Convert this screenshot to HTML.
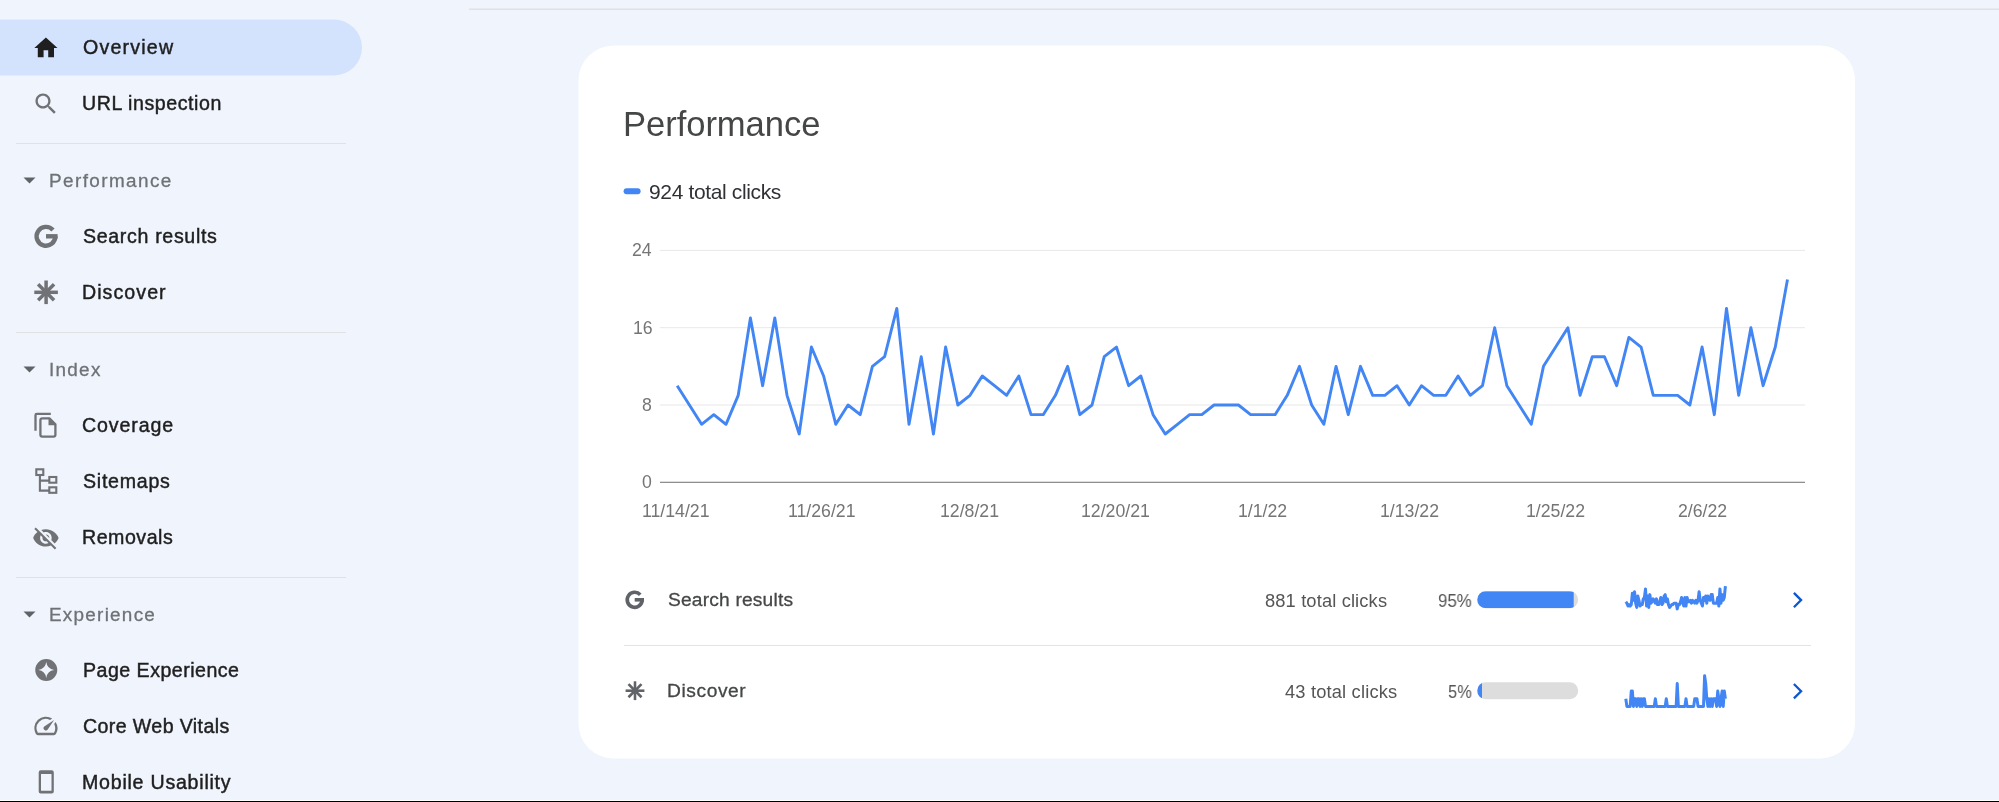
<!DOCTYPE html>
<html><head><meta charset="utf-8"><title>Search Console - Overview</title>
<style>
html,body{margin:0;padding:0}
body{width:1999px;height:802px;overflow:hidden;position:relative;background:#f0f4fc;font-family:"Liberation Sans",sans-serif}
.t{position:absolute;white-space:nowrap;will-change:transform}
</style></head><body>
<div style="position:absolute;left:469px;top:8px;right:0;height:1px;background:#e8eaed"></div><div style="position:absolute;left:469px;top:9px;right:0;height:1px;background:#e0e2e3"></div>
<svg style="position:absolute;left:0;top:0;overflow:visible" width="1" height="1"><path d="M0 19.5H334a28 28 0 0 1 0 56H0Z" fill="#d3e3fd"/></svg><div style="position:absolute;left:16px;top:143px;width:330px;height:1px;background:#e0e1e3"></div><div style="position:absolute;left:16px;top:332px;width:330px;height:1px;background:#e0e1e3"></div><div style="position:absolute;left:16px;top:577px;width:330px;height:1px;background:#e0e1e3"></div><div class="t" style="left:82.77px;top:37.30px;font-size:19.6px;line-height:21.90px;letter-spacing:1.200px;color:#1f1f1f;-webkit-text-stroke:0.45px currentColor;">Overview</div><div class="t" style="left:82.49px;top:93.30px;font-size:19.6px;line-height:21.90px;letter-spacing:0.552px;color:#1f1f1f;-webkit-text-stroke:0.45px currentColor;">URL inspection</div><div class="t" style="left:82.76px;top:226.00px;font-size:19.6px;line-height:21.90px;letter-spacing:0.659px;color:#1f1f1f;-webkit-text-stroke:0.45px currentColor;">Search results</div><div class="t" style="left:81.79px;top:282.30px;font-size:19.6px;line-height:21.90px;letter-spacing:1.057px;color:#1f1f1f;-webkit-text-stroke:0.45px currentColor;">Discover</div><div class="t" style="left:82.40px;top:415.30px;font-size:19.6px;line-height:21.90px;letter-spacing:0.883px;color:#1f1f1f;-webkit-text-stroke:0.45px currentColor;">Coverage</div><div class="t" style="left:82.51px;top:471.30px;font-size:19.6px;line-height:21.90px;letter-spacing:0.742px;color:#1f1f1f;-webkit-text-stroke:0.45px currentColor;">Sitemaps</div><div class="t" style="left:81.79px;top:527.30px;font-size:19.6px;line-height:21.90px;letter-spacing:0.525px;color:#1f1f1f;-webkit-text-stroke:0.45px currentColor;">Removals</div><div class="t" style="left:82.79px;top:660.00px;font-size:19.6px;line-height:21.90px;letter-spacing:0.479px;color:#1f1f1f;-webkit-text-stroke:0.45px currentColor;">Page Experience</div><div class="t" style="left:82.90px;top:716.00px;font-size:19.6px;line-height:21.90px;letter-spacing:0.386px;color:#1f1f1f;-webkit-text-stroke:0.45px currentColor;">Core Web Vitals</div><div class="t" style="left:82.29px;top:772.00px;font-size:19.6px;line-height:21.90px;letter-spacing:0.760px;color:#1f1f1f;-webkit-text-stroke:0.45px currentColor;">Mobile Usability</div><div class="t" style="left:48.85px;top:170.39px;font-size:18.9px;line-height:21.11px;letter-spacing:1.420px;color:#6e7175;-webkit-text-stroke:0.3px currentColor;">Performance</div><svg style="position:absolute;left:23.3px;top:177.40px" width="13" height="7" viewBox="0 0 13 7"><path d="M0.5 0.5h12L6.5 6.5z" fill="#5f6368"/></svg><div class="t" style="left:48.66px;top:359.09px;font-size:18.9px;line-height:21.11px;letter-spacing:1.278px;color:#6e7175;-webkit-text-stroke:0.3px currentColor;">Index</div><svg style="position:absolute;left:23.3px;top:366.10px" width="13" height="7" viewBox="0 0 13 7"><path d="M0.5 0.5h12L6.5 6.5z" fill="#5f6368"/></svg><div class="t" style="left:48.85px;top:603.89px;font-size:18.9px;line-height:21.11px;letter-spacing:1.259px;color:#6e7175;-webkit-text-stroke:0.3px currentColor;">Experience</div><svg style="position:absolute;left:23.3px;top:610.90px" width="13" height="7" viewBox="0 0 13 7"><path d="M0.5 0.5h12L6.5 6.5z" fill="#5f6368"/></svg><svg style="position:absolute;left:32.3px;top:33.60px" width="27.8" height="27.8" viewBox="0 0 24 24"><g fill="#1f1f1f"><path d="M10 20v-6h4v6h5v-8h3L12 3 2 12h3v8z"/></g></svg><svg style="position:absolute;left:32.3px;top:89.60px" width="27.8" height="27.8" viewBox="0 0 24 24"><g fill="#707275"><path d="M15.5 14h-.79l-.28-.27C15.41 12.59 16 11.11 16 9.5 16 5.91 13.09 3 9.5 3S3 5.91 3 9.5 5.91 16 9.5 16c1.61 0 3.09-.59 4.23-1.57l.27.28v.79l5 4.99L20.49 19l-4.99-5zm-6 0C7.01 14 5 11.99 5 9.5S7.01 5 9.5 5 14 7.01 14 9.5 11.99 14 9.5 14z"/></g></svg><svg style="position:absolute;left:0;top:0;overflow:visible" width="1" height="1"><path d="M52.99 230.01 A9.40 9.40 0 1 0 55.40 236.30" fill="none" stroke="#707275" stroke-width="4.4"/><rect x="46.00" y="234.10" width="11.60" height="4.40" fill="#707275"/></svg><svg style="position:absolute;left:0;top:0;overflow:visible" width="1" height="1"><g stroke="#707275" stroke-width="3.5"><line x1="34.30" y1="292.30" x2="57.90" y2="292.30"/><line x1="46.10" y1="280.50" x2="46.10" y2="304.10"/><line x1="38.11" y1="284.31" x2="54.09" y2="300.29"/><line x1="54.09" y1="284.31" x2="38.11" y2="300.29"/></g><circle cx="46.1" cy="292.3" r="3.85" fill="#707275"/></svg><svg style="position:absolute;left:0;top:0;overflow:visible" width="1" height="1"><g fill="none" stroke="#707275" stroke-width="2.3">
<path d="M35.5 430.8V415.2Q35.5 413.9 36.8 413.9H50.8"/>
<path d="M40.4 420.3Q40.4 418.4 42.3 418.4H49.4L55.4 424.4V434.7Q55.4 436.6 53.5 436.6H42.3Q40.4 436.6 40.4 434.7Z" stroke-linejoin="round"/>
</g><path d="M48.5 417.5V425.2H56.5Z" fill="#707275"/></svg><svg style="position:absolute;left:0;top:0;overflow:visible" width="1" height="1"><g fill="none" stroke="#707275" stroke-width="2.1">
<rect x="36.3" y="469.3" width="7" height="5.7"/>
<rect x="49.3" y="477.0" width="7" height="5.7"/>
<rect x="49.3" y="487.3" width="7" height="5.5"/>
<path d="M39.9 475.3V490.6H49.3M39.9 480.6H49.3"/>
</g></svg><svg style="position:absolute;left:32.1px;top:523.90px" width="27.8" height="27.8" viewBox="0 0 24 24"><g fill="#707275"><path d="M12 7c2.76 0 5 2.24 5 5 0 .65-.13 1.26-.36 1.83l2.92 2.92c1.51-1.26 2.7-2.89 3.43-4.75-1.73-4.39-6-7.5-11-7.5-1.4 0-2.74.25-3.98.7l2.16 2.16C10.74 7.13 11.35 7 12 7zM2 4.27l2.28 2.28.46.46C3.08 8.3 1.78 10.02 1 12c1.73 4.39 6 7.5 11 7.5 1.55 0 3.03-.3 4.38-.84l.42.42L19.73 22 21 20.73 3.27 3 2 4.27zM7.53 9.8l1.55 1.55c-.05.21-.08.43-.08.65 0 1.66 1.34 3 3 3 .22 0 .44-.03.65-.08l1.55 1.55c-.67.33-1.41.53-2.2.53-2.76 0-5-2.24-5-5 0-.79.2-1.53.53-2.2zm4.31-.78l3.15 3.15.02-.16c0-1.66-1.34-3-3-3l-.17.01z"/></g></svg><svg style="position:absolute;left:0;top:0;overflow:visible" width="1" height="1"><path fill-rule="evenodd" fill="#707275" d="M35.25 670.0a11 11 0 1 0 22 0a11 11 0 1 0 -22 0Z M46.25 662.10Q47.20 669.05 54.15 670.00Q47.20 670.95 46.25 677.90Q45.30 670.95 38.35 670.00Q45.30 669.05 46.25 662.10Z"/></svg><svg style="position:absolute;left:32.4px;top:711.90px" width="27.8" height="27.8" viewBox="0 0 24 24"><g fill="#707275"><path d="M20.38 8.57l-1.23 1.85a8 8 0 0 1-.22 7.58H5.07A8 8 0 0 1 15.58 6.85l1.85-1.23A10 10 0 0 0 3.35 19a2 2 0 0 0 1.72 1h13.85a2 2 0 0 0 1.74-1 10 10 0 0 0-.27-10.44zm-9.79 6.84a2 2 0 0 0 2.83 0l5.66-8.49-8.49 5.66a2 2 0 0 0 0 2.83z"/></g></svg><svg style="position:absolute;left:0;top:0;overflow:visible" width="1" height="1">
<path fill-rule="evenodd" fill="#707275" d="M40.8 770.3H51.7Q53.8 770.3 53.8 772.4V791.4Q53.8 793.5 51.7 793.5H40.8Q38.7 793.5 38.7 791.4V772.4Q38.7 770.3 40.8 770.3Z M41.0 774.0V790.8H51.5V774.0Z"/></svg>
<svg style="position:absolute;left:0;top:0;overflow:visible" width="1" height="1"><rect x="578.5" y="45.5" width="1276.5" height="713" rx="35" ry="35" fill="#fff"/></svg><div class="t" style="left:623.16px;top:104.78px;font-size:34.6px;line-height:38.65px;letter-spacing:-0.050px;color:#444746;">Performance</div><svg style="position:absolute;left:0;top:0;overflow:visible" width="1" height="1"><rect x="623.6" y="188.3" width="17" height="6" rx="3" fill="#4285f4"/></svg><div class="t" style="left:648.72px;top:179.89px;font-size:21.0px;line-height:23.46px;letter-spacing:-0.359px;color:#303134;">924 total clicks</div><svg style="position:absolute;left:0;top:0;overflow:visible" width="1" height="1"><rect x="660" y="249.90" width="1145" height="1" fill="#e8e8e8"/><rect x="660" y="327.20" width="1145" height="1" fill="#e8e8e8"/><rect x="660" y="404.50" width="1145" height="1" fill="#e8e8e8"/><rect x="660" y="481.70" width="1145" height="1.3" fill="#8f8f8f"/><polyline points="677.20,385.68 689.40,405.00 701.60,424.32 713.80,414.66 726.00,424.32 738.21,395.34 750.41,318.04 762.61,385.68 774.81,318.04 787.01,395.34 799.21,433.99 811.41,347.02 823.61,376.01 835.81,424.32 848.01,405.00 860.22,414.66 872.42,366.35 884.62,356.69 896.82,308.38 909.02,424.32 921.22,356.69 933.42,433.99 945.62,347.02 957.82,405.00 970.02,395.34 982.23,376.01 994.43,385.68 1006.63,395.34 1018.83,376.01 1031.03,414.66 1043.23,414.66 1055.43,395.34 1067.63,366.35 1079.83,414.66 1092.03,405.00 1104.24,356.69 1116.44,347.02 1128.64,385.68 1140.84,376.01 1153.04,414.66 1165.24,433.99 1177.44,424.32 1189.64,414.66 1201.84,414.66 1214.04,405.00 1226.25,405.00 1238.45,405.00 1250.65,414.66 1262.85,414.66 1275.05,414.66 1287.25,395.34 1299.45,366.35 1311.65,405.00 1323.85,424.32 1336.05,366.35 1348.26,414.66 1360.46,366.35 1372.66,395.34 1384.86,395.34 1397.06,385.68 1409.26,405.00 1421.46,385.68 1433.66,395.34 1445.86,395.34 1458.06,376.01 1470.27,395.34 1482.47,385.68 1494.67,327.70 1506.87,385.68 1519.07,405.00 1531.27,424.32 1543.47,366.35 1555.67,347.02 1567.87,327.70 1580.07,395.34 1592.28,356.69 1604.48,356.69 1616.68,385.68 1628.88,337.36 1641.08,347.02 1653.28,395.34 1665.48,395.34 1677.68,395.34 1689.88,405.00 1702.08,347.02 1714.29,414.66 1726.49,308.38 1738.69,395.34 1750.89,327.70 1763.09,385.68 1775.29,347.02 1787.49,279.39" fill="none" stroke="#4285f4" stroke-width="2.9" stroke-linejoin="round"/></svg><div class="t" style="left:632.33px;top:241.26px;font-size:17.7px;line-height:19.77px;letter-spacing:0.000px;color:#757575;">24</div><div class="t" style="left:632.59px;top:318.56px;font-size:17.7px;line-height:19.77px;letter-spacing:0.000px;color:#757575;">16</div><div class="t" style="left:642.43px;top:395.86px;font-size:17.7px;line-height:19.77px;letter-spacing:0.000px;color:#757575;">8</div><div class="t" style="left:642.35px;top:473.16px;font-size:17.7px;line-height:19.77px;letter-spacing:0.000px;color:#757575;">0</div><div class="t" style="left:641.66px;top:501.98px;font-size:17.7px;line-height:19.77px;letter-spacing:0.000px;color:#757575;">11/14/21</div><div class="t" style="left:788.25px;top:501.98px;font-size:17.7px;line-height:19.77px;letter-spacing:0.000px;color:#757575;">11/26/21</div><div class="t" style="left:939.76px;top:501.98px;font-size:17.7px;line-height:19.77px;letter-spacing:0.000px;color:#757575;">12/8/21</div><div class="t" style="left:1081.43px;top:501.98px;font-size:17.7px;line-height:19.77px;letter-spacing:0.000px;color:#757575;">12/20/21</div><div class="t" style="left:1237.88px;top:501.98px;font-size:17.7px;line-height:19.77px;letter-spacing:0.000px;color:#757575;">1/1/22</div><div class="t" style="left:1379.54px;top:501.98px;font-size:17.7px;line-height:19.77px;letter-spacing:0.000px;color:#757575;">1/13/22</div><div class="t" style="left:1526.13px;top:501.98px;font-size:17.7px;line-height:19.77px;letter-spacing:0.000px;color:#757575;">1/25/22</div><div class="t" style="left:1677.87px;top:501.98px;font-size:17.7px;line-height:19.77px;letter-spacing:0.000px;color:#757575;">2/6/22</div><div class="t" style="left:668.13px;top:588.92px;font-size:19.2px;line-height:21.45px;letter-spacing:0.181px;color:#444746;-webkit-text-stroke:0.3px currentColor;">Search results</div><div class="t" style="left:1438.01px;top:590.92px;font-size:18.3px;line-height:20.44px;letter-spacing:0.000px;color:#555555;transform:scaleX(0.9226);transform-origin:0 0;">95%</div><div class="t" style="left:1265.20px;top:590.92px;font-size:18.3px;line-height:20.44px;letter-spacing:0.142px;color:#555555;">881 total clicks</div><svg style="position:absolute;left:0;top:0;overflow:visible" width="1" height="1"><defs><clipPath id="c599"><rect x="1477.2" y="591.20" width="101" height="17" rx="8.5"/></clipPath></defs><rect x="1477.2" y="591.20" width="101" height="17" rx="8.5" fill="#dddddd"/><rect x="1477.2" y="591.20" width="96.5" height="17" fill="#4285f4" clip-path="url(#c599)"/></svg><svg style="position:absolute;left:0;top:0;overflow:visible" width="1" height="1"><path d="M1793.9 592.90L1801.1 600.10L1793.9 607.30" fill="none" stroke="#0b57d0" stroke-width="2.3"/></svg><div class="t" style="left:667.42px;top:680.02px;font-size:19.2px;line-height:21.45px;letter-spacing:0.588px;color:#444746;-webkit-text-stroke:0.3px currentColor;">Discover</div><div class="t" style="left:1448.04px;top:682.02px;font-size:18.3px;line-height:20.44px;letter-spacing:0.000px;color:#555555;transform:scaleX(0.8977);transform-origin:0 0;">5%</div><div class="t" style="left:1284.98px;top:682.02px;font-size:18.3px;line-height:20.44px;letter-spacing:0.174px;color:#555555;">43 total clicks</div><svg style="position:absolute;left:0;top:0;overflow:visible" width="1" height="1"><defs><clipPath id="c690"><rect x="1477.2" y="682.30" width="101" height="17" rx="8.5"/></clipPath></defs><rect x="1477.2" y="682.30" width="101" height="17" rx="8.5" fill="#dddddd"/><rect x="1477.2" y="682.30" width="4.8" height="17" fill="#4285f4" clip-path="url(#c690)"/></svg><svg style="position:absolute;left:0;top:0;overflow:visible" width="1" height="1"><path d="M1793.9 684.00L1801.1 691.20L1793.9 698.40" fill="none" stroke="#0b57d0" stroke-width="2.3"/></svg><div style="position:absolute;left:623.7px;top:644.7px;width:1187px;height:1px;background:#e3e3e3"></div><svg style="position:absolute;left:0;top:0;overflow:visible" width="1" height="1"><path d="M640.27 594.78 A7.50 7.50 0 1 0 642.20 599.80" fill="none" stroke="#5f6368" stroke-width="3.6"/><rect x="634.70" y="598.00" width="9.30" height="3.60" fill="#5f6368"/></svg><svg style="position:absolute;left:0;top:0;overflow:visible" width="1" height="1"><g stroke="#606367" stroke-width="2.6"><line x1="625.60" y1="690.70" x2="644.40" y2="690.70"/><line x1="635.00" y1="681.30" x2="635.00" y2="700.10"/><line x1="628.49" y1="684.19" x2="641.51" y2="697.21"/><line x1="641.51" y1="684.19" x2="628.49" y2="697.21"/></g><circle cx="635.0" cy="690.7" r="2.86" fill="#606367"/></svg><svg style="position:absolute;left:0;top:0;overflow:visible" width="1" height="1"><polyline points="1625.80,601.76 1626.89,603.18 1627.99,606.04 1629.08,604.61 1630.18,606.04 1631.27,604.61 1632.37,593.20 1633.46,600.33 1634.56,591.77 1635.65,603.18 1636.75,607.47 1637.84,596.05 1638.93,600.33 1640.03,606.04 1641.12,604.61 1642.22,604.61 1643.31,598.90 1644.41,597.48 1645.50,588.91 1646.60,606.04 1647.69,596.05 1648.78,607.47 1649.88,594.62 1650.97,603.18 1652.07,601.76 1653.16,598.90 1654.26,600.33 1655.35,603.18 1656.45,598.90 1657.54,604.61 1658.64,604.61 1659.73,601.76 1660.82,597.48 1661.92,604.61 1663.01,603.18 1664.11,596.05 1665.20,594.62 1666.30,601.76 1667.39,598.90 1668.49,604.61 1669.58,607.47 1670.67,606.04 1671.77,604.61 1672.86,604.61 1673.96,603.18 1675.05,603.18 1676.15,603.18 1677.24,608.89 1678.34,604.61 1679.43,604.61 1680.53,601.76 1681.62,597.48 1682.71,603.18 1683.81,606.04 1684.90,597.48 1686.00,606.04 1687.09,597.48 1688.19,601.76 1689.28,601.76 1690.38,600.33 1691.47,603.18 1692.56,600.33 1693.66,601.76 1694.75,603.18 1695.85,600.33 1696.94,603.18 1698.04,600.33 1699.13,591.77 1700.23,600.33 1701.32,603.18 1702.42,606.04 1703.51,597.48 1704.60,600.33 1705.70,596.05 1706.79,603.18 1707.89,596.05 1708.98,597.48 1710.08,600.33 1711.17,594.62 1712.27,594.62 1713.36,603.18 1714.45,603.18 1715.55,603.18 1716.64,603.18 1717.74,597.48 1718.83,606.04 1719.93,588.91 1721.02,603.18 1722.12,594.62 1723.21,600.33 1724.31,597.48 1725.40,586.06" fill="none" stroke="#4285f4" stroke-width="3.0" stroke-linejoin="round"/></svg><svg style="position:absolute;left:0;top:0;overflow:visible" width="1" height="1"><polyline points="1625.80,698.75 1626.89,706.40 1627.99,706.40 1629.08,706.40 1630.18,706.40 1631.27,691.10 1632.37,691.10 1633.46,706.40 1634.56,698.75 1635.65,698.75 1636.75,706.40 1637.84,698.75 1638.93,698.75 1640.03,706.40 1641.12,698.75 1642.22,706.40 1643.31,698.75 1644.41,698.75 1645.50,706.40 1646.60,706.40 1647.69,706.40 1648.78,706.40 1649.88,706.40 1650.97,706.40 1652.07,706.40 1653.16,706.40 1654.26,706.40 1655.35,698.75 1656.45,706.40 1657.54,706.40 1658.64,706.40 1659.73,706.40 1660.82,706.40 1661.92,706.40 1663.01,706.40 1664.11,706.40 1665.20,706.40 1666.30,698.75 1667.39,706.40 1668.49,706.40 1669.58,706.40 1670.67,706.40 1671.77,706.40 1672.86,706.40 1673.96,706.40 1675.05,706.40 1676.15,706.40 1677.24,683.45 1678.34,706.40 1679.43,706.40 1680.53,706.40 1681.62,706.40 1682.71,706.40 1683.81,706.40 1684.90,706.40 1686.00,698.75 1687.09,706.40 1688.19,706.40 1689.28,706.40 1690.38,706.40 1691.47,706.40 1692.56,706.40 1693.66,706.40 1694.75,698.75 1695.85,698.75 1696.94,698.75 1698.04,706.40 1699.13,706.40 1700.23,706.40 1701.32,706.40 1702.42,706.40 1703.51,706.40 1704.60,675.80 1705.70,683.45 1706.79,698.75 1707.89,706.40 1708.98,698.75 1710.08,706.40 1711.17,698.75 1712.27,706.40 1713.36,698.75 1714.45,698.75 1715.55,698.75 1716.64,706.40 1717.74,691.10 1718.83,698.75 1719.93,706.40 1721.02,698.75 1722.12,691.10 1723.21,706.40 1724.31,691.10 1725.40,698.75" fill="none" stroke="#4285f4" stroke-width="3.0" stroke-linejoin="round"/></svg>
<div style="position:absolute;left:0;top:800px;width:1999px;height:1px;background:#fff"></div><div style="position:absolute;left:0;top:801px;width:1999px;height:1px;background:#000"></div>
</body></html>
